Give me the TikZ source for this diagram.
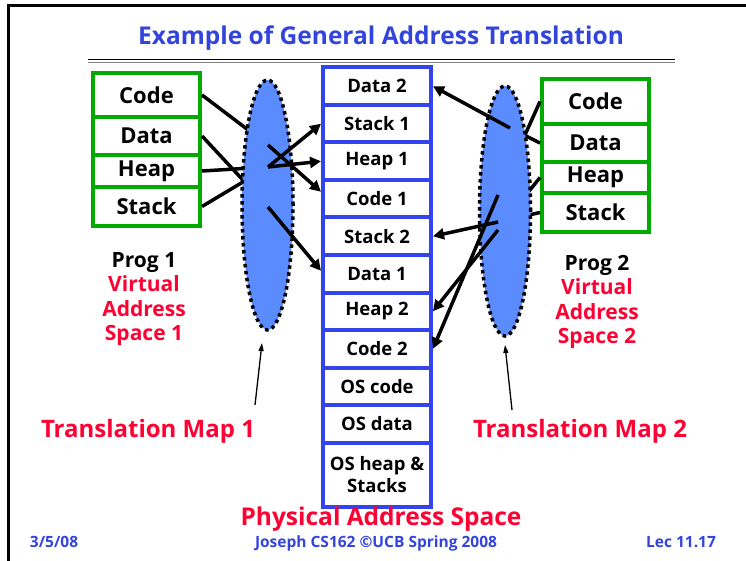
\documentclass[tikz,border=0pt]{standalone}
\usepackage{fontspec}
\setmainfont{Open Sans}
\usetikzlibrary{arrows.meta,shapes.geometric}
\definecolor{PhysBlue}{HTML}{3344EE}
\definecolor{VirtGreen}{HTML}{00AA00}
\definecolor{MapBlue}{HTML}{5B8CFF}
\definecolor{SlideRed}{HTML}{FF0033}
\definecolor{TitleBlue}{HTML}{3344DD}
\newcommand{\fsz}[2]{\fontsize{#1}{#2}\selectfont}

\begin{document}
\begin{tikzpicture}[x=1pt,y=-1pt,>={Triangle[length=11pt,width=11pt]},
  phys/.style={draw=PhysBlue,line width=4pt,fill=white,minimum width=108pt,minimum height=37.5pt,inner sep=0pt,font=\fsz{18.5}{22}\bfseries},
  virt/.style={draw=VirtGreen,line width=4pt,fill=white,minimum width=107pt,inner sep=0pt,font=\fsz{22}{26}\bfseries},
  tmap/.style={ellipse,draw=black,fill=MapBlue,line width=3.5pt,dash pattern=on 3.5pt off 3.5pt,minimum width=51pt,minimum height=250pt,inner sep=0pt},
  link/.style={line width=3.5pt},
  hint/.style={line width=1.3pt,-{Triangle[length=8pt,width=5pt]}},
  caption/.style={text=SlideRed,font=\fsz{24}{28}\bfseries},
  footer/.style={text=TitleBlue,font=\fsz{15.5}{18}\bfseries}]
  \useasboundingbox (0,0) rectangle (746,561);
  % slide frame and title
  \draw[line width=3.3pt] (8.5,561) -- (8.5,5.7) -- (746,5.7);
  \node[text=TitleBlue,font=\fsz{24.5}{28}\bfseries] (title) at (381,38) {Example of General Address Translation};
  \draw[line width=1.3pt] (88,59.7) -- (675,59.7);
  \draw[line width=1pt,gray] (88,62.3) -- (675,62.3);

  % physical address space
  \node[phys] (data2) at (377,86.25) {Data 2};
  \node[phys] (stack1) at (377,123.75) {Stack 1};
  \node[phys] (heap1) at (377,161.25) {Heap 1};
  \node[phys] (code1) at (377,198.75) {Code 1};
  \node[phys] (stack2) at (377,236.25) {Stack 2};
  \node[phys] (data1) at (377,273.75) {Data 1};
  \node[phys] (heap2) at (377,311.25) {Heap 2};
  \node[phys] (code2) at (377,348.75) {Code 2};
  \node[phys] (oscode) at (377,386.25) {OS code};
  \node[phys] (osdata) at (377,423.75) {OS data};
  \node[phys,minimum height=64pt,align=center] (osheap) at (377,474.5) {OS heap \&\\Stacks};
  \node[caption,font=\fsz{24.5}{28}\bfseries] (physlbl) at (381,519) {Physical Address Space};

  % program 1
  \node[virt,minimum height=44pt] (lcode) at (146.5,95) {Code};
  \node[virt,minimum height=38pt] (ldata) at (146.5,136) {Data};
  \node[virt,minimum height=32pt] (lheap) at (146.5,171) {Heap};
  \node[virt,minimum height=39pt] (lstack) at (146.5,206.5) {Stack};
  \node[align=center,font=\fsz{21}{24.5}\bfseries] (prog1) at (144,299) {Prog 1\\\textcolor{SlideRed}{Virtual}\\\textcolor{SlideRed}{Address}\\\textcolor{SlideRed}{Space 1}};

  % program 2
  \node[virt,minimum height=45pt] (rcode) at (595.5,101.5) {Code};
  \node[virt,minimum height=38pt] (rdata) at (595.5,143) {Data};
  \node[virt,minimum height=31pt] (rheap) at (595.5,177.5) {Heap};
  \node[virt,minimum height=39pt] (rstack) at (595.5,212.5) {Stack};
  \node[align=center,font=\fsz{21}{24.5}\bfseries] (prog2) at (597,302) {Prog 2\\\textcolor{SlideRed}{Virtual}\\\textcolor{SlideRed}{Address}\\\textcolor{SlideRed}{Space 2}};

  % points inside the maps
  \coordinate (m1code) at (268,145);
  \coordinate (m1data) at (268,207);
  \coordinate (m1hs) at (268,167);
  \coordinate (m2data) at (510,128);
  \coordinate (m2code) at (498,195);
  \coordinate (m2stack) at (498,222);
  \coordinate (m2heap) at (498,230);

  \draw[link] (lcode.east) -- (m1code);
  \draw[link] (ldata.east) -- (m1data);
  \draw[link] (lheap.east) -- (m1hs);
  \draw[link] (lstack.east) -- (m1hs);
  \draw[link] (rcode.west) -- (m2code);
  \draw[link] (rdata.west) -- (m2data);
  \draw[link] (rheap.west) -- (m2heap);
  \draw[link] (rstack.west) -- (m2stack);

  \node[tmap] (map1) at (267.5,205) {};
  \node[tmap] (map2) at (505,211) {};

  \draw[link,->] (m1code) -- ([yshift=7pt]code1.west);
  \draw[link,->] (m1data) -- ([yshift=3pt]data1.west);
  \draw[link,->] (m1hs) -- (heap1.west);
  \draw[link,->] (m1hs) -- (stack1.west);
  \draw[link,->] (m2data) -- (data2.east);
  \draw[link,->] (m2stack) -- (stack2.east);
  \draw[link,->] (m2heap) -- (heap2.east);
  \draw[link,->] (m2code) -- (code2.east);

  % translation maps
  \node[caption] (tm1) at (148,431) {Translation Map 1};
  \node[caption] (tm2) at (580,431) {Translation Map 2};
  \coordinate (tm1foot) at (255,405);
  \coordinate (tm1tip) at (262,343);
  \coordinate (tm2foot) at (512,410);
  \coordinate (tm2tip) at (505,345);
  \draw[hint] (tm1foot) -- (tm1tip);
  \draw[hint] (tm2foot) -- (tm2tip);

  % footer
  \node[footer] (date) at (54,542) {3/5/08};
  \node[footer] (credit) at (376,543) {Joseph CS162 ©UCB Spring 2008};
  \node[footer] (lec) at (681,542) {Lec 11.17};
\end{tikzpicture}
\end{document}
